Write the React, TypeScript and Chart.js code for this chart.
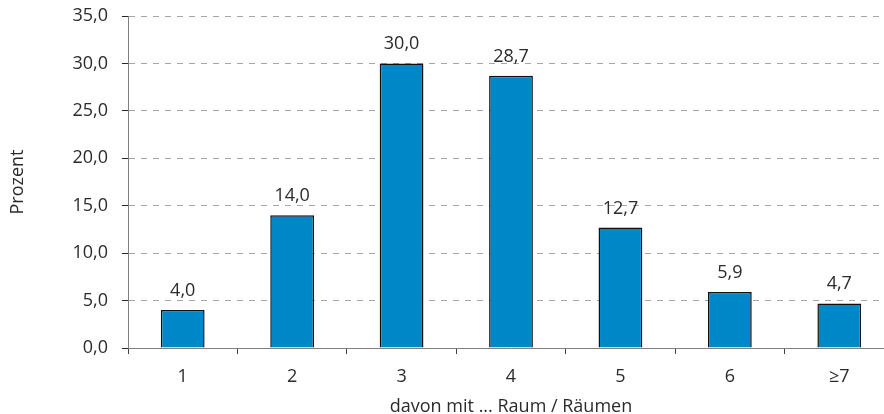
import React, { useEffect, useRef } from "react";
import { Chart, registerables } from "chart.js";

Chart.register(...registerables);

const categories: string[] = ["1", "2", "3", "4", "5", "6", "≥7"];
const values: number[] = [4.0, 14.0, 30.0, 28.7, 12.7, 5.9, 4.7];
const yTicks: number[] = [0, 5, 10, 15, 20, 25, 30, 35];
const xTitle = "davon mit ... Raum / Räumen";
const yTitle = "Prozent";

const FONT = "'Open Sans', Lato, sans-serif";
const TEXT = "#2b2b2b";
const FS = 18;

const fmt = (v: number) => v.toFixed(1).replace(".", ",");

const dataLabels = {
  id: "dataLabels",
  afterDatasetsDraw(chart: any) {
    const ctx = chart.ctx;
    const meta = chart.getDatasetMeta(0);
    ctx.save();
    ctx.font = `${FS}px ${FONT}`;
    ctx.fillStyle = TEXT;
    ctx.textAlign = "center";
    ctx.textBaseline = "alphabetic";
    meta.data.forEach((el: any, i: number) => {
      ctx.fillText(fmt(values[i]), el.x, el.y - 14);
    });
    ctx.restore();
  },
};

export default function App() {
  const ref = useRef<HTMLCanvasElement | null>(null);
  useEffect(() => {
    if (!ref.current) return;
    const chart = new Chart(ref.current, {
      type: "bar",
      data: {
        labels: categories,
        datasets: [
          {
            data: values,
            backgroundColor: "#0087C7",
            borderColor: "#111111",
            borderWidth: 1.5,
            barPercentage: 0.4,
            categoryPercentage: 1,
          },
        ],
      },
      options: {
        animation: false,
        responsive: false,
        maintainAspectRatio: false,
        layout: { padding: { top: 16, right: 6, left: 0, bottom: 0 } },
        plugins: {
          legend: { display: false },
          tooltip: { enabled: false },
        },
        scales: {
          x: {
            offset: true,
            afterFit: (s: any) => {
              s.height = 66;
              s.paddingLeft = 0;
              s.paddingRight = 0;
            },
            grid: {
              display: true,
              drawOnChartArea: false,
              drawTicks: true,
              tickLength: 6,
              tickColor: "#404040",
              offset: true,
            },
            border: { color: "#808080", width: 1 },
            ticks: {
              color: TEXT,
              font: { family: FONT, size: FS },
              padding: 12,
            },
            title: {
              display: true,
              text: xTitle,
              color: TEXT,
              font: { family: FONT, size: FS },
              padding: { top: 0, bottom: -4 },
            },
          },
          y: {
            min: 0,
            max: 35,
            afterFit: (s: any) => {
              s.width = 128;
              s.paddingTop = 0;
              s.paddingBottom = 0;
            },
            afterBuildTicks: (s: any) => {
              s.ticks = yTicks.map((v) => ({ value: v }));
            },
            grid: {
              color: "#a6a6a6",
              lineWidth: 1,
              tickColor: "#262626",
              tickBorderDash: [],
              tickLength: 6,
            },
            border: { color: "#808080", width: 1, dash: [6, 6] },
            ticks: {
              color: TEXT,
              font: { family: FONT, size: FS },
              padding: 14,
              callback: (v: any) => fmt(Number(v)),
            },
            title: {
              display: true,
              text: yTitle,
              color: TEXT,
              font: { family: FONT, size: FS },
              padding: { top: 7, bottom: 0 },
            },
          },
        },
      },
      plugins: [dataLabels],
    });
    return () => chart.destroy();
  }, []);
  return (
    <div
      style={{
        position: "fixed",
        left: 0,
        top: 0,
        width: 884,
        height: 414,
        overflow: "hidden",
        background: "#fff",
      }}
    >
      <canvas ref={ref} width={900} height={414} style={{ display: "block", width: 900, height: 414 }} />
    </div>
  );
}
